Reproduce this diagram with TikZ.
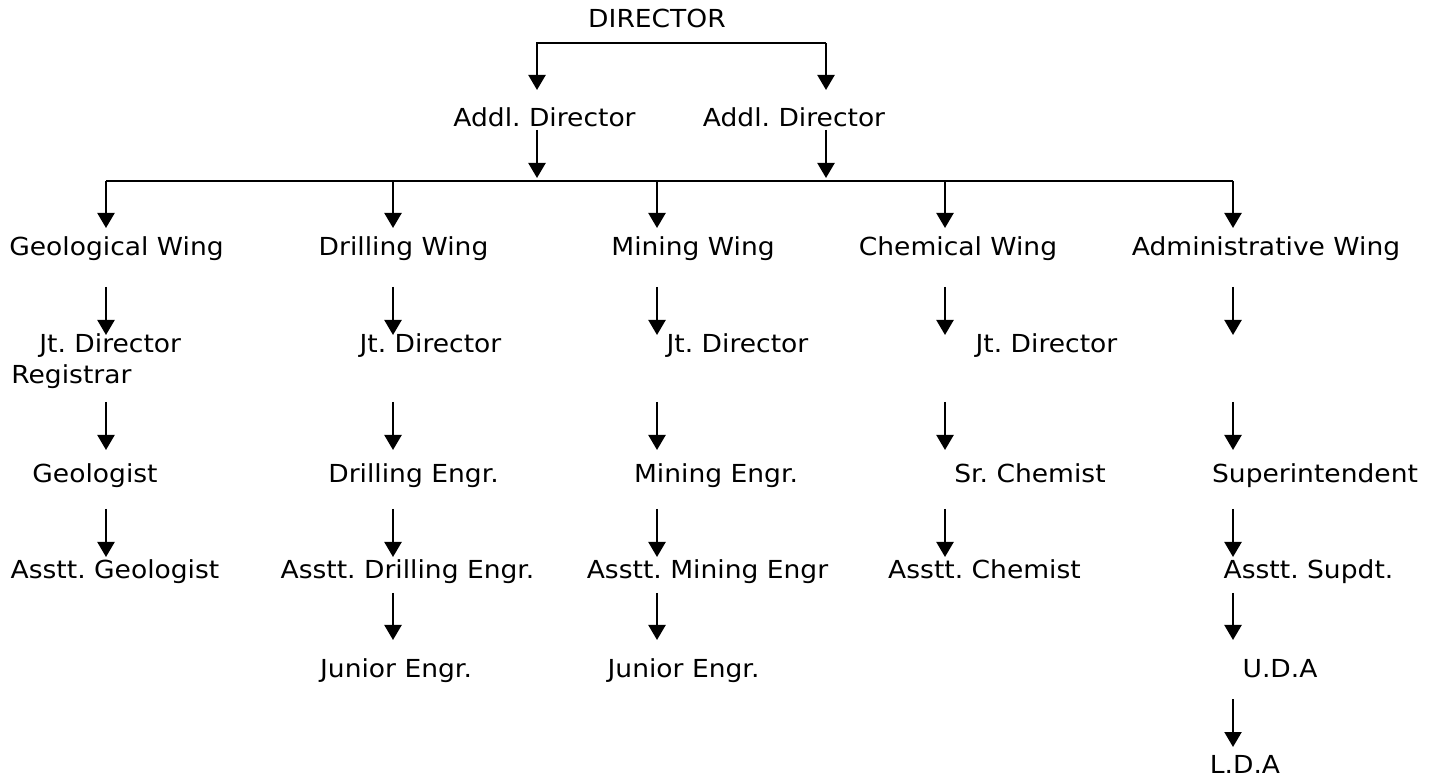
\documentclass[tikz,border=0pt]{standalone}
\usepackage{fontspec}
\setmainfont{DejaVu Sans}[FakeStretch=1.07]
\usetikzlibrary{arrows.meta}
\frenchspacing
\begin{document}
\begin{tikzpicture}[x=0.5pt,y=-0.5pt,
  lbl/.style={inner sep=0pt, anchor=base, font=\fontsize{12.4pt}{15.5pt}\selectfont\frenchspacing},
  arr/.style={line width=1.1pt, -{Triangle[length=7.5pt,width=8.5pt]}},
  ln/.style={line width=1.1pt}]
\useasboundingbox (0,0) rectangle (1439,779);
% top
\node[lbl] (dir) at (657,28) {DIRECTOR};
\node[lbl] (ad1) at (544.5,127) {Addl. Director};
\node[lbl] (ad2) at (794,127) {Addl. Director};
% wings
\node[lbl] (gw) at (116.5,256) {Geological Wing};
\node[lbl] (dw) at (403.5,256) {Drilling Wing};
\node[lbl] (mw) at (693,256) {Mining Wing};
\node[lbl] (cw) at (958,256) {Chemical Wing};
\node[lbl] (aw) at (1266,256) {Administrative Wing};
% joint directors
\node[lbl, anchor=base west] (gj) at (11,353) {\begin{tabular}[t]{@{}l@{}}\hspace*{14pt}Jt. Director\\Registrar\end{tabular}};
\node[lbl] (dj) at (430.5,353) {Jt. Director};
\node[lbl] (mj) at (737.5,353) {Jt. Director};
\node[lbl] (cj) at (1046.5,353) {Jt. Director};
% level 3
\node[lbl] (geo) at (95,483) {Geologist};
\node[lbl] (de) at (413.5,483) {Drilling Engr.};
\node[lbl] (me) at (716,483) {Mining Engr.};
\node[lbl] (sc) at (1030,483) {Sr. Chemist};
\node[lbl] (sup) at (1315,483) {Superintendent};
% level 4
\node[lbl] (ag) at (115,579) {Asstt. Geologist};
\node[lbl] (ade) at (407.5,579) {Asstt. Drilling Engr.};
\node[lbl] (ame) at (707.5,579) {Asstt. Mining Engr};
\node[lbl] (ac) at (984.5,579) {Asstt. Chemist};
\node[lbl] (as) at (1308.5,579) {Asstt. Supdt.};
% level 5
\node[lbl] (dje) at (396,677) {Junior Engr.};
\node[lbl] (mje) at (683.5,677) {Junior Engr.};
\node[lbl] (uda) at (1280,677) {U.D.A};
\node[lbl] (lda) at (1245,773) {L.D.A};

% director bracket
\coordinate (bl) at (537,43);
\coordinate (br) at (826,43);
\draw[arr] (br) -- (bl) -- ++(0,47);
\draw[arr] (br) -- ++(0,47);
\draw[arr] (ad1.base -| bl) ++(0,3) -- ++(0,48);
\draw[arr] (ad2.base -| br) ++(0,3) -- ++(0,48);

% bus
\coordinate (cG) at (106,181);
\coordinate (cD) at (393,181);
\coordinate (cM) at (657,181);
\coordinate (cC) at (945,181);
\coordinate (cA) at (1233,181);
\draw[ln] (cG) -- (cA);
\foreach \c in {cG,cD,cM,cC,cA} \draw[arr] (\c) -- ++(0,47);

% wing -> jt director
\draw[arr] (cG |- gw.base) ++(0,31) -- ++(0,48);
\draw[arr] (cD |- dw.base) ++(0,31) -- ++(0,48);
\draw[arr] (cM |- mw.base) ++(0,31) -- ++(0,48);
\draw[arr] (cC |- cw.base) ++(0,31) -- ++(0,48);
\draw[arr] (cA |- aw.base) ++(0,31) -- ++(0,48);

% jt director -> level 3
\draw[arr] (cG |- geo.base) ++(0,-81) -- ++(0,48);
\draw[arr] (cD |- de.base) ++(0,-81) -- ++(0,48);
\draw[arr] (cM |- me.base) ++(0,-81) -- ++(0,48);
\draw[arr] (cC |- sc.base) ++(0,-81) -- ++(0,48);
\draw[arr] (cA |- sup.base) ++(0,-81) -- ++(0,48);

% level 3 -> level 4
\draw[arr] (cG |- geo.base) ++(0,26) -- ++(0,48);
\draw[arr] (cD |- de.base) ++(0,26) -- ++(0,48);
\draw[arr] (cM |- me.base) ++(0,26) -- ++(0,48);
\draw[arr] (cC |- sc.base) ++(0,26) -- ++(0,48);
\draw[arr] (cA |- sup.base) ++(0,26) -- ++(0,48);

% level 4 -> level 5
\draw[arr] (cD |- ade.base) ++(0,14) -- ++(0,47);
\draw[arr] (cM |- ame.base) ++(0,14) -- ++(0,47);
\draw[arr] (cA |- as.base) ++(0,14) -- ++(0,47);

% U.D.A -> L.D.A
\draw[arr] (cA |- uda.base) ++(0,22) -- ++(0,48);
\end{tikzpicture}
\end{document}
